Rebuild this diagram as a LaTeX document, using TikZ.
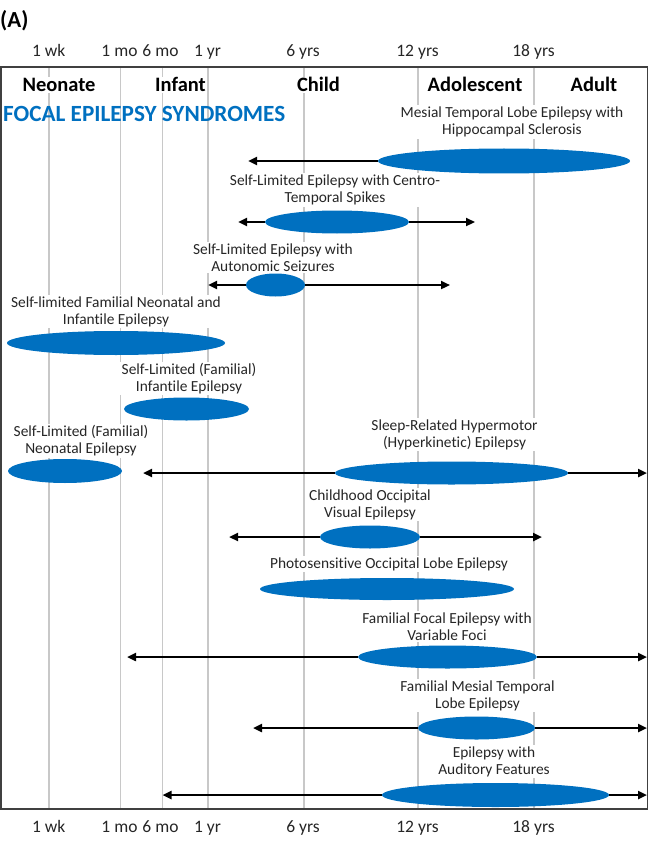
\documentclass[tikz,border=0pt]{standalone}
\usepackage{fontspec}
\setmainfont{Carlito}[Ligatures=NoCommon]
\usetikzlibrary{shapes.geometric,arrows.meta}
\definecolor{epblue}{HTML}{0070C0}
\definecolor{gridgray}{HTML}{C8C8C8}
\definecolor{txtgray}{HTML}{262626}
\definecolor{framegray}{HTML}{404040}
\begin{document}
\begin{tikzpicture}[x=1pt,y=-1pt,
  lbl/.style={fill=white, inner sep=1.5pt, align=center, text=txtgray, font=\fontsize{15.4}{17}\selectfont},
  hdr/.style={fill=white, inner sep=1pt, text height=14pt, text depth=0pt, font=\fontsize{20.5}{24}\selectfont\bfseries, text=black},
  tick/.style={inner sep=0pt, text height=12pt, text depth=3.5pt, font=\fontsize{17.5}{20}\selectfont, text=txtgray},
  gridln/.style={gridgray, line width=1.2pt},
  oval/.style={ellipse, fill=epblue, draw=none, inner sep=0pt},
  arr/.style={line width=2.4pt, -{Triangle[length=9pt,width=8pt]}},
]
\useasboundingbox (0,0) rectangle (650,845);

% grid lines
\foreach \gx in {49,120.5,162.5,208,304,418,534}{
  \draw[gridln] (\gx,67) -- (\gx,809);
}

% labels
\node[lbl] (t1) at (512,122) {Mesial Temporal Lobe Epilepsy with\\Hippocampal Sclerosis};
\node[lbl] (t2) at (335,190) {Self-Limited Epilepsy with Centro-\\Temporal Spikes};
\node[lbl] (t3) at (273,257.5) {Self-Limited Epilepsy with\\Autonomic Seizures};
\node[lbl] (t4) at (116,311.5) {Self-limited Familial Neonatal and\\Infantile Epilepsy};
\node[lbl] (t5) at (189,378.5) {Self-Limited (Familial)\\Infantile Epilepsy};
\node[lbl] (t6) at (81,441) {Self-Limited (Familial)\\Neonatal Epilepsy};
\node[lbl] (t7) at (454.5,434.5) {Sleep-Related Hypermotor\\(Hyperkinetic) Epilepsy};
\node[lbl] (t8) at (370,504.5) {Childhood Occipital\\Visual Epilepsy};
\node[lbl] (t9) at (389,564) {Photosensitive Occipital Lobe Epilepsy};
\node[lbl] (t10) at (447,626.5) {Familial Focal Epilepsy with\\Variable Foci};
\node[lbl] (t11) at (477.5,695.5) {Familial Mesial Temporal\\Lobe Epilepsy};
\node[lbl] (t12) at (494,761.5) {Epilepsy with\\Auditory Features};

% ellipses
\node[oval, minimum width=252pt, minimum height=25pt] (e1) at (504,161) {};
\node[oval, minimum width=144pt, minimum height=23pt] (e2) at (337,222) {};
\node[oval, minimum width=59pt, minimum height=23pt] (e3) at (275.5,285) {};
\node[oval, minimum width=218pt, minimum height=24pt] (e4) at (116,343) {};
\node[oval, minimum width=125pt, minimum height=23pt] (e5) at (186.5,409) {};
\node[oval, minimum width=114pt, minimum height=24pt] (e6) at (65,471) {};
\node[oval, minimum width=233pt, minimum height=23pt] (e7) at (451.5,473) {};
\node[oval, minimum width=100pt, minimum height=23pt] (e8) at (370,537) {};
\node[oval, minimum width=254pt, minimum height=22pt] (e9) at (387,589) {};
\node[oval, minimum width=179pt, minimum height=23pt] (e10) at (447.5,657) {};
\node[oval, minimum width=117pt, minimum height=23pt] (e11) at (476.5,728) {};
\node[oval, minimum width=227pt, minimum height=24pt] (e12) at (495.5,795) {};

% arrow ends
\coordinate (l1) at (248,161);
\coordinate (l2) at (238,222);  \coordinate (r2) at (475,222);
\coordinate (l3) at (208,285);  \coordinate (r3) at (450,285);
\coordinate (l7) at (143,473);  \coordinate (r7) at (647,473);
\coordinate (l8) at (229,537);  \coordinate (r8) at (542,537);
\coordinate (l10) at (127,657); \coordinate (r10) at (647,657);
\coordinate (l11) at (253,728); \coordinate (r11) at (647,728);
\coordinate (l12) at (162.5,795); \coordinate (r12) at (647,795);

\draw[arr] (e1.west) -- (l1);
\draw[arr] (e2.west) -- (l2);  \draw[arr] (e2.east) -- (r2);
\draw[arr] (e3.west) -- (l3);  \draw[arr] (e3.east) -- (r3);
\draw[arr] (e7.west) -- (l7);  \draw[arr] (e7.east) -- (r7);
\draw[arr] (e8.west) -- (l8);  \draw[arr] (e8.east) -- (r8);
\draw[arr] (e10.west) -- (l10); \draw[arr] (e10.east) -- (r10);
\draw[arr] (e11.west) -- (l11); \draw[arr] (e11.east) -- (r11);
\draw[arr] (e12.west) -- (l12); \draw[arr] (e12.east) -- (r12);

% headings
\node[hdr] (h1) at (59,85) {Neonate};
\node[hdr] (h2) at (180.5,85) {Infant};
\node[hdr] (h3) at (318.5,85) {Child};
\node[hdr] (h4) at (475,85) {Adolescent};
\node[hdr] (h5) at (594,85) {Adult};
\node[anchor=west, inner sep=0pt, text height=14pt, text depth=0pt, text=epblue, font=\fontsize{23.2}{26}\selectfont\bfseries] (title) at (3,115) {FOCAL EPILEPSY SYNDROMES};

% panel letter
\node[anchor=west, inner sep=0pt, font=\fontsize{23}{26}\selectfont\bfseries] (panel) at (0,21) {(A)};

% tick labels
\foreach \gx/\txt/\nm in {48.7/1 wk/a,119.5/1 mo/b,160.5/6 mo/c,207.5/1 yr/d,303/6 yrs/e,417.5/12 yrs/f,533.5/18 yrs/g}{
  \node[tick] (top\nm) at (\gx,52) {\txt};
  \node[tick] (bot\nm) at (\gx,828) {\txt};
}

% frame
\draw[framegray, line width=1.5pt] (0.75,67) rectangle (647.5,809);
\end{tikzpicture}
\end{document}
